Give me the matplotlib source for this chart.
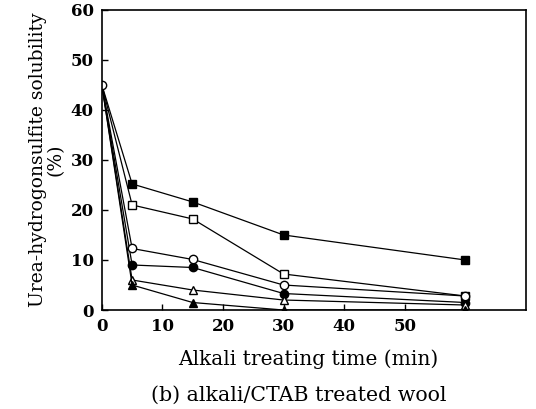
import matplotlib.pyplot as plt

plt.rcParams["font.family"] = "DejaVu Serif"

# alkali treating time (min)
time = [0, 5, 15, 30, 60]

# urea-hydrogensulfite solubility (%) per series
filled_square = [45, 25.2, 21.6, 15.0, 10.0]
open_square = [45, 21.0, 18.2, 7.2, 2.8]
open_circle = [45, 12.3, 10.1, 5.0, 2.8]
filled_circle = [45, 9.0, 8.5, 3.3, 1.5]
open_triangle = [45, 6.0, 4.0, 2.0, 1.0]
filled_triangle = [45, 5.0, 1.5, 0.0, 0.0]

x_ticks = [0, 10, 20, 30, 40, 50]
y_ticks = [0, 10, 20, 30, 40, 50, 60]

fig = plt.figure(figsize=(5.36, 4.09), dpi=100)
ax = fig.add_axes([0.19, 0.242, 0.791, 0.734])

series = [
    (filled_square, "s", "black"),
    (open_square, "s", "white"),
    (filled_circle, "o", "black"),
    (open_triangle, "^", "white"),
    (filled_triangle, "^", "black"),
    (open_circle, "o", "white"),
]
for values, marker, face in series:
    # the shared start point is drawn once, as an open circle
    every = None if face == "white" and marker == "o" else slice(1, None)
    ax.plot(time, values, color="black", linewidth=0.9, marker=marker,
            markersize=6, markerfacecolor=face, markeredgecolor="black",
            markeredgewidth=1.0, markevery=every)

ax.set_xlim(0, 70)
ax.set_ylim(0, 60)
ax.set_xticks(x_ticks)
ax.set_yticks(y_ticks)
ax.tick_params(direction="in", length=4, width=1.0, labelsize=12,
               top=False, right=False, pad=6)
for lbl in ax.get_xticklabels() + ax.get_yticklabels():
    lbl.set_fontweight("bold")
for spine in ax.spines.values():
    spine.set_linewidth(1.2)

ax.set_ylabel("Urea-hydrogonsulfite solubility\n(%)", fontsize=13.5,
              linespacing=1.0, labelpad=4)
ax.set_xlabel("Alkali treating time (min)", fontsize=14.5)
ax.xaxis.set_label_coords(0.488, -0.13)
fig.text(0.558, 0.034, "(b) alkali/CTAB treated wool", ha="center",
         va="center", fontsize=14.8)

fig.savefig("out.png")
